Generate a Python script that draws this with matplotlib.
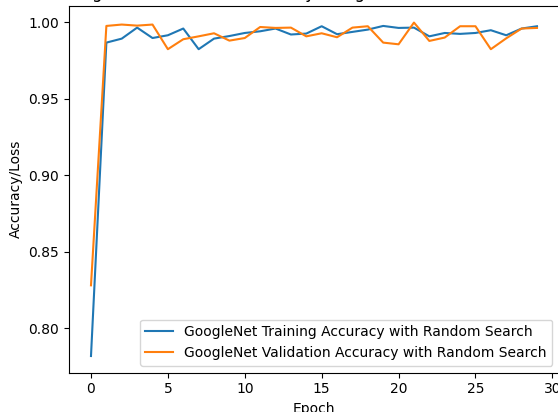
"""GoogleNet training/validation accuracy per epoch (random search run)."""

import matplotlib

matplotlib.use("Agg")
import matplotlib.pyplot as plt

EPOCHS = list(range(30))

TRAIN_ACC = [
    0.7819, 0.9867, 0.9893, 0.9965, 0.9897, 0.9915, 0.9959, 0.9824, 0.9893, 0.9910,
    0.9930, 0.9941, 0.9959, 0.9920, 0.9926, 0.9974, 0.9922, 0.9937, 0.9952, 0.9976,
    0.9963, 0.9965, 0.9908, 0.9930, 0.9924, 0.9930, 0.9948, 0.9915, 0.9959, 0.9974,
]

VAL_ACC = [
    0.8281, 0.9976, 0.9985, 0.9978, 0.9985, 0.9824, 0.9889, 0.9908, 0.9928, 0.9880,
    0.9897, 0.9969, 0.9963, 0.9965, 0.9908, 0.9928, 0.9902, 0.9965, 0.9974, 0.9867,
    0.9856, 0.9998, 0.9878, 0.9900, 0.9974, 0.9974, 0.9824, 0.9895, 0.9959, 0.9963,
]

TITLE = "GoogleNet Validation Accuracy using Random Search Method"


def main() -> None:
    fig = plt.figure(figsize=(5.58, 4.12), dpi=100)
    # axes placed so the frame is cropped like the reference (title/right edge off-canvas)
    ax = fig.add_axes([0.1231, 0.0954, 0.8792, 0.8903])

    ax.plot(EPOCHS, TRAIN_ACC, label="GoogleNet Training Accuracy with Random Search")
    ax.plot(EPOCHS, VAL_ACC, label="GoogleNet Validation Accuracy with Random Search")

    ax.set_title(TITLE)
    ax.set_xlabel("Epoch")
    ax.set_ylabel("Accuracy/Loss")
    ax.legend(loc="lower right")

    fig.savefig("out.png", dpi=100)


if __name__ == "__main__":
    main()
